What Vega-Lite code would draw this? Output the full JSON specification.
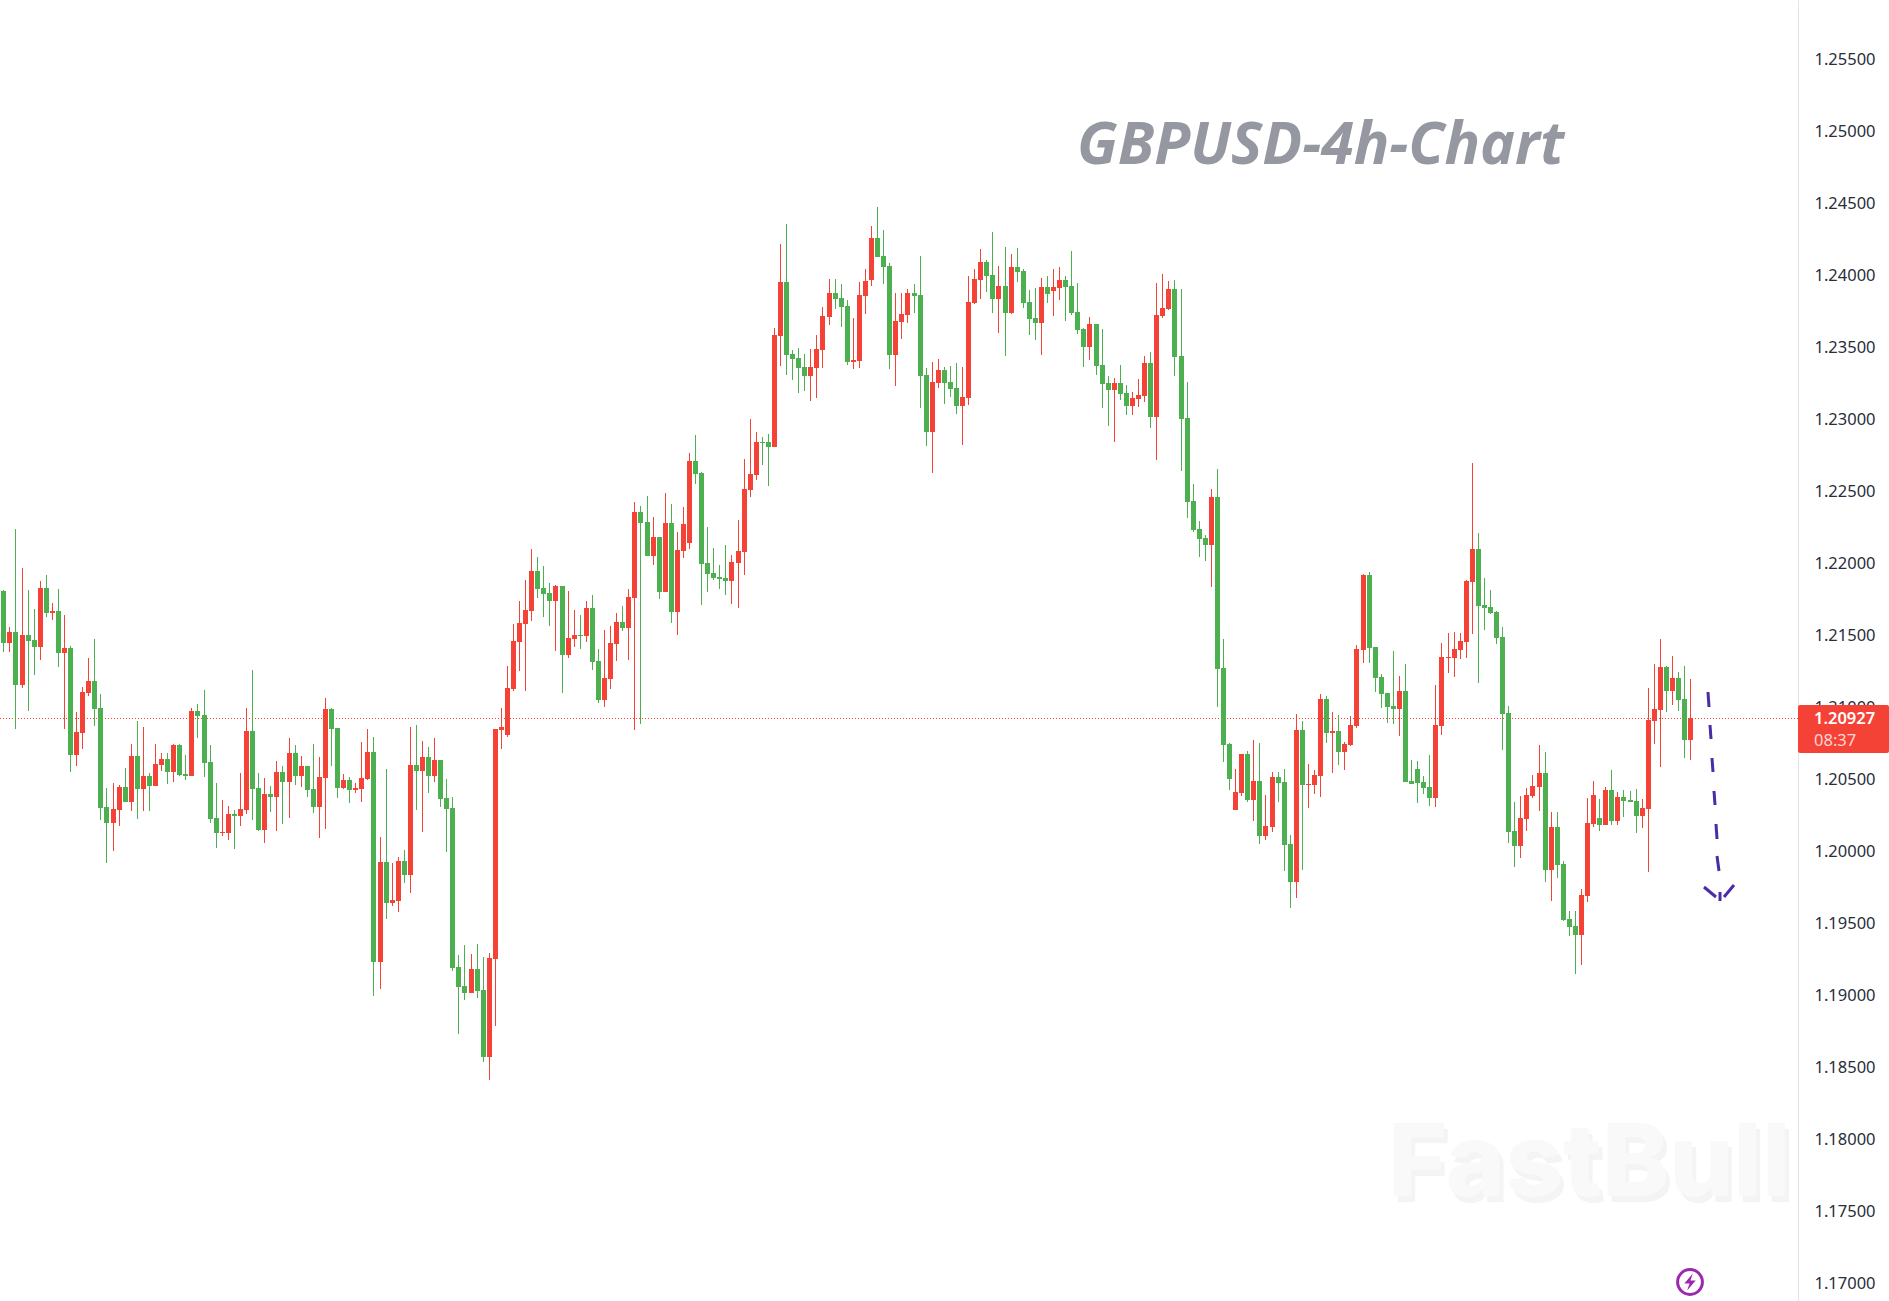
{"$schema":"https://vega.github.io/schema/vega-lite/v6.json","width":1798,"height":1301,"autosize":"none","padding":{"left":0,"top":0,"right":91,"bottom":0},"background":"white","config":{"view":{"stroke":null}},"datasets":{"candles":[
{"t":1,"o":1.21809,"h":1.21816,"l":1.21388,"c":1.2145},{"t":2,"o":1.2145,"h":1.21559,"l":1.21388,"c":1.21524},{"t":3,"o":1.21524,"h":1.2224,"l":1.20853,"c":1.21158},{"t":4,"o":1.21158,"h":1.21966,"l":1.21138,"c":1.21503},{"t":5,"o":1.21503,"h":1.21816,"l":1.20978,"c":1.21464},{"t":6,"o":1.21469,"h":1.21684,"l":1.21228,"c":1.21422},{"t":7,"o":1.21422,"h":1.21878,"l":1.21332,"c":1.2183},{"t":8,"o":1.2183,"h":1.2192,"l":1.21631,"c":1.21659},{"t":9,"o":1.21656,"h":1.21726,"l":1.2161,"c":1.2167},{"t":10,"o":1.2167,"h":1.21823,"l":1.21283,"c":1.21381},
{"t":11,"o":1.21381,"h":1.21642,"l":1.20853,"c":1.21413},{"t":12,"o":1.21413,"h":1.21427,"l":1.20554,"c":1.20672},{"t":13,"o":1.20672,"h":1.20969,"l":1.20596,"c":1.2083},{"t":14,"o":1.20825,"h":1.21142,"l":1.20714,"c":1.21108},{"t":15,"o":1.21103,"h":1.21344,"l":1.21082,"c":1.21184},{"t":16,"o":1.21184,"h":1.21476,"l":1.20874,"c":1.20992},{"t":17,"o":1.20996,"h":1.21094,"l":1.20221,"c":1.20304},{"t":18,"o":1.20309,"h":1.20441,"l":1.19922,"c":1.202},{"t":19,"o":1.202,"h":1.20476,"l":1.20006,"c":1.20295},{"t":20,"o":1.2029,"h":1.20462,"l":1.20179,"c":1.20448},
{"t":21,"o":1.20448,"h":1.2058,"l":1.20346,"c":1.20346},{"t":22,"o":1.20346,"h":1.20746,"l":1.20283,"c":1.20663},{"t":23,"o":1.20663,"h":1.20906,"l":1.20228,"c":1.20436},{"t":24,"o":1.20436,"h":1.20864,"l":1.20283,"c":1.20524},{"t":25,"o":1.20524,"h":1.20545,"l":1.20283,"c":1.20457},{"t":26,"o":1.20457,"h":1.20746,"l":1.20457,"c":1.20608},{"t":27,"o":1.20601,"h":1.20684,"l":1.20561,"c":1.20642},{"t":28,"o":1.20642,"h":1.20684,"l":1.20471,"c":1.20554},{"t":29,"o":1.20554,"h":1.20746,"l":1.20485,"c":1.20739},{"t":30,"o":1.20739,"h":1.20746,"l":1.20526,"c":1.20533},
{"t":31,"o":1.20538,"h":1.2067,"l":1.20499,"c":1.20526},{"t":32,"o":1.20526,"h":1.20996,"l":1.20526,"c":1.20976},{"t":33,"o":1.20976,"h":1.21024,"l":1.2079,"c":1.20943},{"t":34,"o":1.20948,"h":1.21121,"l":1.2052,"c":1.20617},{"t":35,"o":1.20621,"h":1.20739,"l":1.202,"c":1.20228},{"t":36,"o":1.20232,"h":1.20476,"l":1.20026,"c":1.20131},{"t":37,"o":1.20128,"h":1.2036,"l":1.2011,"c":1.20135},{"t":38,"o":1.20131,"h":1.20316,"l":1.20082,"c":1.2026},{"t":39,"o":1.2026,"h":1.20288,"l":1.2002,"c":1.20249},{"t":40,"o":1.20249,"h":1.20545,"l":1.20179,"c":1.20295},
{"t":41,"o":1.2029,"h":1.20996,"l":1.20263,"c":1.20837},{"t":42,"o":1.20837,"h":1.2126,"l":1.20221,"c":1.20436},{"t":43,"o":1.20441,"h":1.20545,"l":1.20145,"c":1.20151},{"t":44,"o":1.20151,"h":1.2051,"l":1.20061,"c":1.20399},{"t":45,"o":1.20399,"h":1.20455,"l":1.20276,"c":1.20381},{"t":46,"o":1.20381,"h":1.20628,"l":1.20145,"c":1.20552},{"t":47,"o":1.20552,"h":1.20594,"l":1.20193,"c":1.20485},{"t":48,"o":1.20485,"h":1.20788,"l":1.20235,"c":1.20684},{"t":49,"o":1.20684,"h":1.20739,"l":1.20464,"c":1.20526},{"t":50,"o":1.20525,"h":1.20664,"l":1.20451,"c":1.20594},
{"t":51,"o":1.20594,"h":1.20594,"l":1.20379,"c":1.20427},{"t":52,"o":1.20434,"h":1.20747,"l":1.2027,"c":1.20312},{"t":53,"o":1.20312,"h":1.20657,"l":1.20096,"c":1.20518},{"t":54,"o":1.20513,"h":1.21066,"l":1.20159,"c":1.2099},{"t":55,"o":1.2099,"h":1.20997,"l":1.20596,"c":1.20853},{"t":56,"o":1.20858,"h":1.20858,"l":1.20374,"c":1.20444},{"t":57,"o":1.20444,"h":1.20539,"l":1.20434,"c":1.20497},{"t":58,"o":1.20497,"h":1.20518,"l":1.20333,"c":1.2043},{"t":59,"o":1.2043,"h":1.20476,"l":1.20409,"c":1.20441},{"t":60,"o":1.20437,"h":1.20761,"l":1.20346,"c":1.20511},
{"t":61,"o":1.20504,"h":1.20851,"l":1.20497,"c":1.20691},{"t":62,"o":1.20691,"h":1.20796,"l":1.18999,"c":1.19235},{"t":63,"o":1.19235,"h":1.20101,"l":1.19048,"c":1.19927},{"t":64,"o":1.19927,"h":1.20573,"l":1.19534,"c":1.19645},{"t":65,"o":1.19645,"h":1.1992,"l":1.19624,"c":1.19663},{"t":66,"o":1.19659,"h":1.19962,"l":1.19576,"c":1.19934},{"t":67,"o":1.19934,"h":1.20011,"l":1.19784,"c":1.19839},{"t":68,"o":1.19839,"h":1.20865,"l":1.19714,"c":1.20601},{"t":69,"o":1.20601,"h":1.20879,"l":1.20291,"c":1.20562},{"t":70,"o":1.20562,"h":1.20768,"l":1.20138,"c":1.20657},
{"t":71,"o":1.20657,"h":1.20726,"l":1.20409,"c":1.20527},{"t":72,"o":1.20527,"h":1.20789,"l":1.20485,"c":1.20636},{"t":73,"o":1.20636,"h":1.20636,"l":1.20312,"c":1.20367},{"t":74,"o":1.20372,"h":1.20504,"l":1.19999,"c":1.20298},{"t":75,"o":1.20302,"h":1.20379,"l":1.19173,"c":1.19194},{"t":76,"o":1.19198,"h":1.19282,"l":1.18735,"c":1.19062},{"t":77,"o":1.19066,"h":1.19351,"l":1.18971,"c":1.1902},{"t":78,"o":1.1902,"h":1.19288,"l":1.1902,"c":1.19184},{"t":79,"o":1.19184,"h":1.19358,"l":1.18985,"c":1.19034},{"t":80,"o":1.19038,"h":1.19268,"l":1.18541,"c":1.18575},
{"t":81,"o":1.18575,"h":1.19295,"l":1.18416,"c":1.19261},{"t":82,"o":1.19256,"h":1.20851,"l":1.18791,"c":1.20851},{"t":83,"o":1.20846,"h":1.20997,"l":1.20708,"c":1.20865},{"t":84,"o":1.20812,"h":1.21289,"l":1.20798,"c":1.21136},{"t":85,"o":1.2113,"h":1.21579,"l":1.21116,"c":1.21461},{"t":86,"o":1.21457,"h":1.21739,"l":1.21255,"c":1.21586},{"t":87,"o":1.21582,"h":1.21885,"l":1.21116,"c":1.21677},{"t":88,"o":1.21672,"h":1.221,"l":1.21602,"c":1.21947},{"t":89,"o":1.21947,"h":1.22045,"l":1.21762,"c":1.21825},{"t":90,"o":1.21829,"h":1.21982,"l":1.2163,"c":1.2179},
{"t":91,"o":1.21795,"h":1.21864,"l":1.21568,"c":1.21741},{"t":92,"o":1.21741,"h":1.2185,"l":1.21394,"c":1.21843},{"t":93,"o":1.21843,"h":1.21843,"l":1.21102,"c":1.21366},{"t":94,"o":1.21366,"h":1.21809,"l":1.21346,"c":1.21482},{"t":95,"o":1.21477,"h":1.21677,"l":1.21422,"c":1.21503},{"t":96,"o":1.21503,"h":1.21642,"l":1.21408,"c":1.21496},{"t":97,"o":1.21498,"h":1.21739,"l":1.21457,"c":1.2169},{"t":98,"o":1.2169,"h":1.21781,"l":1.21262,"c":1.21318},{"t":99,"o":1.21322,"h":1.21406,"l":1.21033,"c":1.21054},{"t":100,"o":1.21054,"h":1.21538,"l":1.21005,"c":1.21204},
{"t":101,"o":1.212,"h":1.21565,"l":1.2113,"c":1.21447},{"t":102,"o":1.21443,"h":1.21656,"l":1.21325,"c":1.21593},{"t":103,"o":1.21593,"h":1.21704,"l":1.21533,"c":1.21554},{"t":104,"o":1.21554,"h":1.21822,"l":1.21332,"c":1.21767},{"t":105,"o":1.21762,"h":1.22427,"l":1.20845,"c":1.22357},{"t":106,"o":1.22357,"h":1.22399,"l":1.20887,"c":1.22283},{"t":107,"o":1.22288,"h":1.22468,"l":1.22054,"c":1.22054},{"t":108,"o":1.22054,"h":1.22322,"l":1.21991,"c":1.22184},{"t":109,"o":1.22184,"h":1.22184,"l":1.21755,"c":1.21804},{"t":110,"o":1.21804,"h":1.22489,"l":1.21804,"c":1.22281},
{"t":111,"o":1.22281,"h":1.22413,"l":1.21589,"c":1.21665},{"t":112,"o":1.21665,"h":1.22218,"l":1.21505,"c":1.22093},{"t":113,"o":1.22089,"h":1.22392,"l":1.2204,"c":1.22274},{"t":114,"o":1.22144,"h":1.22767,"l":1.22103,"c":1.22711},{"t":115,"o":1.22711,"h":1.22892,"l":1.22554,"c":1.22623},{"t":116,"o":1.22628,"h":1.22635,"l":1.21714,"c":1.21998},{"t":117,"o":1.22003,"h":1.22253,"l":1.21804,"c":1.21929},{"t":118,"o":1.21934,"h":1.22107,"l":1.21887,"c":1.21901},{"t":119,"o":1.21906,"h":1.21989,"l":1.21825,"c":1.21894},{"t":120,"o":1.21899,"h":1.22128,"l":1.21783,"c":1.2188},
{"t":121,"o":1.2188,"h":1.22059,"l":1.21721,"c":1.2201},{"t":122,"o":1.22005,"h":1.22302,"l":1.21693,"c":1.22086},{"t":123,"o":1.22082,"h":1.22725,"l":1.21922,"c":1.22517},{"t":124,"o":1.22512,"h":1.23003,"l":1.22464,"c":1.22621},{"t":125,"o":1.22616,"h":1.22913,"l":1.22582,"c":1.22843},{"t":126,"o":1.22843,"h":1.22878,"l":1.22686,"c":1.22836},{"t":127,"o":1.22843,"h":1.22899,"l":1.2254,"c":1.22811},{"t":128,"o":1.22811,"h":1.23635,"l":1.22811,"c":1.23586},{"t":129,"o":1.23582,"h":1.24218,"l":1.23373,"c":1.23955},{"t":130,"o":1.23955,"h":1.24357,"l":1.23311,"c":1.2345},
{"t":131,"o":1.23454,"h":1.23482,"l":1.23276,"c":1.23422},{"t":132,"o":1.23427,"h":1.23496,"l":1.23186,"c":1.2336},{"t":133,"o":1.23364,"h":1.23454,"l":1.232,"c":1.23304},{"t":134,"o":1.23304,"h":1.23489,"l":1.2313,"c":1.23364},{"t":135,"o":1.2336,"h":1.23586,"l":1.23151,"c":1.23489},{"t":136,"o":1.23485,"h":1.23781,"l":1.2336,"c":1.23718},{"t":137,"o":1.23714,"h":1.23975,"l":1.23658,"c":1.23878},{"t":138,"o":1.23878,"h":1.23975,"l":1.23769,"c":1.23839},{"t":139,"o":1.23843,"h":1.23941,"l":1.23644,"c":1.23783},{"t":140,"o":1.23788,"h":1.23829,"l":1.2338,"c":1.23401},
{"t":141,"o":1.23401,"h":1.23704,"l":1.23353,"c":1.23413},{"t":142,"o":1.23408,"h":1.23955,"l":1.2336,"c":1.23864},{"t":143,"o":1.2386,"h":1.24045,"l":1.23735,"c":1.23961},{"t":144,"o":1.23968,"h":1.24343,"l":1.23929,"c":1.2426},{"t":145,"o":1.2426,"h":1.24475,"l":1.2413,"c":1.2413},{"t":146,"o":1.24135,"h":1.24316,"l":1.23943,"c":1.24061},{"t":147,"o":1.24066,"h":1.24086,"l":1.23353,"c":1.2345},{"t":148,"o":1.2345,"h":1.23878,"l":1.23235,"c":1.23684},{"t":149,"o":1.23679,"h":1.23878,"l":1.23561,"c":1.23732},{"t":150,"o":1.23728,"h":1.23906,"l":1.23672,"c":1.23878},
{"t":151,"o":1.23878,"h":1.23941,"l":1.23742,"c":1.2386},{"t":152,"o":1.23864,"h":1.24135,"l":1.23082,"c":1.23304},{"t":153,"o":1.23309,"h":1.23357,"l":1.22818,"c":1.22915},{"t":154,"o":1.22915,"h":1.23399,"l":1.2263,"c":1.2326},{"t":155,"o":1.23255,"h":1.2342,"l":1.23221,"c":1.23343},{"t":156,"o":1.23343,"h":1.23364,"l":1.2311,"c":1.23255},{"t":157,"o":1.2326,"h":1.23371,"l":1.23158,"c":1.23214},{"t":158,"o":1.23218,"h":1.23392,"l":1.2304,"c":1.23096},{"t":159,"o":1.23096,"h":1.23364,"l":1.22825,"c":1.23156},{"t":160,"o":1.23151,"h":1.23996,"l":1.23103,"c":1.23816},
{"t":161,"o":1.23811,"h":1.24045,"l":1.23804,"c":1.23975},{"t":162,"o":1.23971,"h":1.24184,"l":1.23839,"c":1.24093},{"t":163,"o":1.24093,"h":1.24107,"l":1.23887,"c":1.23998},{"t":164,"o":1.24003,"h":1.24302,"l":1.23742,"c":1.23839},{"t":165,"o":1.23839,"h":1.24066,"l":1.23603,"c":1.23927},{"t":166,"o":1.23927,"h":1.24198,"l":1.23443,"c":1.23742},{"t":167,"o":1.23742,"h":1.24149,"l":1.23735,"c":1.24059},{"t":168,"o":1.24059,"h":1.24191,"l":1.23957,"c":1.24026},{"t":169,"o":1.24031,"h":1.24045,"l":1.23776,"c":1.23811},{"t":170,"o":1.23816,"h":1.23899,"l":1.23589,"c":1.237},
{"t":171,"o":1.23704,"h":1.23913,"l":1.23554,"c":1.23672},{"t":172,"o":1.23672,"h":1.23982,"l":1.2345,"c":1.2392},{"t":173,"o":1.2392,"h":1.23996,"l":1.23811,"c":1.23873},{"t":174,"o":1.23894,"h":1.24045,"l":1.23721,"c":1.2392},{"t":175,"o":1.23915,"h":1.24059,"l":1.23832,"c":1.23968},{"t":176,"o":1.23968,"h":1.23996,"l":1.23686,"c":1.23922},{"t":177,"o":1.23927,"h":1.2417,"l":1.23728,"c":1.23741},{"t":178,"o":1.23746,"h":1.23947,"l":1.23596,"c":1.23623},{"t":179,"o":1.23628,"h":1.23635,"l":1.23366,"c":1.23505},{"t":180,"o":1.23505,"h":1.23711,"l":1.23415,"c":1.23663},
{"t":181,"o":1.23663,"h":1.23663,"l":1.23311,"c":1.23373},{"t":182,"o":1.23378,"h":1.23628,"l":1.23082,"c":1.23248},{"t":183,"o":1.23253,"h":1.23302,"l":1.22957,"c":1.23207},{"t":184,"o":1.23207,"h":1.23288,"l":1.22846,"c":1.23253},{"t":185,"o":1.23253,"h":1.23378,"l":1.23137,"c":1.23179},{"t":186,"o":1.23184,"h":1.23239,"l":1.23033,"c":1.23096},{"t":187,"o":1.23096,"h":1.2319,"l":1.23033,"c":1.23149},{"t":188,"o":1.23144,"h":1.23281,"l":1.23089,"c":1.2317},{"t":189,"o":1.23165,"h":1.2344,"l":1.23123,"c":1.23392},{"t":190,"o":1.23392,"h":1.23468,"l":1.22943,"c":1.23019},
{"t":191,"o":1.23019,"h":1.23947,"l":1.22721,"c":1.23725},{"t":192,"o":1.23721,"h":1.2401,"l":1.23707,"c":1.23774},{"t":193,"o":1.23769,"h":1.23961,"l":1.23762,"c":1.23906},{"t":194,"o":1.23906,"h":1.23968,"l":1.23304,"c":1.23436},{"t":195,"o":1.2344,"h":1.23906,"l":1.22644,"c":1.23005},{"t":196,"o":1.2301,"h":1.2326,"l":1.22318,"c":1.22429},{"t":197,"o":1.22434,"h":1.22552,"l":1.22221,"c":1.22235},{"t":198,"o":1.22239,"h":1.22295,"l":1.22047,"c":1.22172},{"t":199,"o":1.22177,"h":1.22198,"l":1.22019,"c":1.22131},{"t":200,"o":1.22131,"h":1.22517,"l":1.21839,"c":1.22462},
{"t":201,"o":1.22462,"h":1.22656,"l":1.21005,"c":1.21269},{"t":202,"o":1.21274,"h":1.21475,"l":1.20623,"c":1.20742},{"t":203,"o":1.20746,"h":1.20753,"l":1.20429,"c":1.20505},{"t":204,"o":1.2029,"h":1.20573,"l":1.2029,"c":1.20413},{"t":205,"o":1.20408,"h":1.20677,"l":1.20387,"c":1.20677},{"t":206,"o":1.20677,"h":1.20698,"l":1.20346,"c":1.2036},{"t":207,"o":1.2036,"h":1.20774,"l":1.20214,"c":1.20489},{"t":208,"o":1.20489,"h":1.20753,"l":1.20054,"c":1.2011},{"t":209,"o":1.2011,"h":1.20392,"l":1.20082,"c":1.20177},{"t":210,"o":1.20172,"h":1.20552,"l":1.20137,"c":1.20517},
{"t":211,"o":1.20517,"h":1.20552,"l":1.20346,"c":1.20478},{"t":212,"o":1.20482,"h":1.20573,"l":1.19866,"c":1.20047},{"t":213,"o":1.20052,"h":1.20114,"l":1.1961,"c":1.1979},{"t":214,"o":1.1979,"h":1.20955,"l":1.19679,"c":1.20843},{"t":215,"o":1.20843,"h":1.20906,"l":1.19873,"c":1.20464},{"t":216,"o":1.20461,"h":1.20607,"l":1.20304,"c":1.20468},{"t":217,"o":1.20464,"h":1.20566,"l":1.20401,"c":1.20531},{"t":218,"o":1.20526,"h":1.21093,"l":1.2038,"c":1.21059},{"t":219,"o":1.21059,"h":1.2108,"l":1.20755,"c":1.20825},{"t":220,"o":1.20825,"h":1.20968,"l":1.20547,"c":1.20836},
{"t":221,"o":1.20836,"h":1.20948,"l":1.20603,"c":1.20693},{"t":222,"o":1.20693,"h":1.2076,"l":1.20568,"c":1.20746},{"t":223,"o":1.20742,"h":1.20941,"l":1.20735,"c":1.20878},{"t":224,"o":1.20873,"h":1.21434,"l":1.2086,"c":1.21406},{"t":225,"o":1.21401,"h":1.21927,"l":1.21311,"c":1.2192},{"t":226,"o":1.2192,"h":1.21941,"l":1.21311,"c":1.21415},{"t":227,"o":1.2142,"h":1.2142,"l":1.2111,"c":1.21207},{"t":228,"o":1.21211,"h":1.21232,"l":1.20999,"c":1.21096},{"t":229,"o":1.211,"h":1.211,"l":1.20894,"c":1.21005},{"t":230,"o":1.2101,"h":1.21392,"l":1.20887,"c":1.20992},
{"t":231,"o":1.20992,"h":1.21218,"l":1.20804,"c":1.21114},{"t":232,"o":1.21114,"h":1.21302,"l":1.20485,"c":1.20485},{"t":233,"o":1.20489,"h":1.20635,"l":1.20471,"c":1.20471},{"t":234,"o":1.20573,"h":1.20628,"l":1.20339,"c":1.20478},{"t":235,"o":1.20482,"h":1.20524,"l":1.20401,"c":1.20443},{"t":236,"o":1.20448,"h":1.2067,"l":1.20318,"c":1.20373},{"t":237,"o":1.20373,"h":1.21156,"l":1.20311,"c":1.20878},{"t":238,"o":1.20873,"h":1.21448,"l":1.20811,"c":1.2135},{"t":239,"o":1.21346,"h":1.21517,"l":1.21242,"c":1.2135},{"t":240,"o":1.21343,"h":1.21525,"l":1.21214,"c":1.21405},
{"t":241,"o":1.21401,"h":1.21518,"l":1.21336,"c":1.2146},{"t":242,"o":1.21456,"h":1.21884,"l":1.21343,"c":1.21879},{"t":243,"o":1.21874,"h":1.22697,"l":1.21513,"c":1.22101},{"t":244,"o":1.22101,"h":1.22212,"l":1.21171,"c":1.21707},{"t":245,"o":1.21712,"h":1.21898,"l":1.21537,"c":1.21692},{"t":246,"o":1.21697,"h":1.21814,"l":1.21649,"c":1.21657},{"t":247,"o":1.21664,"h":1.21671,"l":1.21444,"c":1.21484},{"t":248,"o":1.21489,"h":1.21559,"l":1.20705,"c":1.20956},{"t":249,"o":1.20961,"h":1.21011,"l":1.20061,"c":1.20138},{"t":250,"o":1.20142,"h":1.20343,"l":1.19894,"c":1.2004},
{"t":251,"o":1.2004,"h":1.20384,"l":1.19953,"c":1.20231},{"t":252,"o":1.20226,"h":1.20441,"l":1.20145,"c":1.20391},{"t":253,"o":1.20386,"h":1.2053,"l":1.20372,"c":1.20453},{"t":254,"o":1.20449,"h":1.20738,"l":1.20284,"c":1.20544},{"t":255,"o":1.20544,"h":1.20688,"l":1.19788,"c":1.19872},{"t":256,"o":1.19872,"h":1.20274,"l":1.19654,"c":1.20169},{"t":257,"o":1.20169,"h":1.20274,"l":1.19815,"c":1.19908},{"t":258,"o":1.19913,"h":1.19934,"l":1.19518,"c":1.19525},{"t":259,"o":1.1953,"h":1.19585,"l":1.19413,"c":1.19477},{"t":260,"o":1.19482,"h":1.19585,"l":1.1915,"c":1.19422},
{"t":261,"o":1.19422,"h":1.19738,"l":1.19212,"c":1.19698},{"t":262,"o":1.19693,"h":1.20372,"l":1.19652,"c":1.20197},{"t":263,"o":1.20193,"h":1.20489,"l":1.20169,"c":1.20391},{"t":264,"o":1.20231,"h":1.20365,"l":1.20145,"c":1.20186},{"t":265,"o":1.20186,"h":1.20446,"l":1.20186,"c":1.20427},{"t":266,"o":1.20427,"h":1.20566,"l":1.20186,"c":1.20214},{"t":267,"o":1.20214,"h":1.20413,"l":1.20186,"c":1.20377},{"t":268,"o":1.20377,"h":1.20427,"l":1.2024,"c":1.20353},{"t":269,"o":1.20358,"h":1.2042,"l":1.20346,"c":1.20346},{"t":270,"o":1.20351,"h":1.20434,"l":1.2013,"c":1.20248},
{"t":271,"o":1.20248,"h":1.20365,"l":1.20164,"c":1.203},{"t":272,"o":1.20298,"h":1.21135,"l":1.1986,"c":1.20913},{"t":273,"o":1.20908,"h":1.21303,"l":1.20748,"c":1.20989},{"t":274,"o":1.20984,"h":1.21475,"l":1.20583,"c":1.21281},{"t":275,"o":1.21281,"h":1.21286,"l":1.2097,"c":1.21116},{"t":276,"o":1.21116,"h":1.21358,"l":1.2102,"c":1.21204},{"t":277,"o":1.21204,"h":1.21245,"l":1.20977,"c":1.21054},{"t":278,"o":1.21059,"h":1.21286,"l":1.20652,"c":1.20776},{"t":279,"o":1.20776,"h":1.21197,"l":1.20638,"c":1.20927}
],"dashes":[
{"a":281.88,"b":282.10,"p":1.2111,"q":1.21006},{"a":282.26,"b":282.43,"p":1.20878,"q":1.20779},{"a":282.59,"b":282.81,"p":1.20652,"q":1.2055},{"a":282.92,"b":283.09,"p":1.20422,"q":1.20321},{"a":283.2,"b":283.36,"p":1.20191,"q":1.20089},{"a":283.47,"b":283.69,"p":1.19969,"q":1.19865},{"a":283.91,"b":283.96,"p":1.19721,"q":1.19659},{"a":281.27,"b":283.25,"p":1.19756,"q":1.19686},{"a":286.27,"b":284.62,"p":1.19767,"q":1.19686}
]},
"layer":[
{"data":{"values":[{"label":"FastBull","i":229.2,"p":1.17608}]},"mark":{"type":"text","align":"left","baseline":"alphabetic","font":"Inter","fontWeight":800,"fontSize":101,"dx":4,"dy":6,"color":"#f4f4f4"},"encoding":{"x":{"field":"i","type":"quantitative","axis":null,"scale":{"domain":[0.456,296.76],"range":[0,1798],"nice":false,"zero":false,"round":true,"padding":0}},"y":{"field":"p","type":"quantitative","scale":{"domain":[1.16878,1.25913],"range":[1301,0],"nice":false,"zero":false,"round":true},"axis":{"orient":"right","values":[1.17,1.175,1.18,1.185,1.19,1.195,1.2,1.205,1.21,1.215,1.22,1.225,1.23,1.235,1.24,1.245,1.25,1.255],"format":".5f","title":null,"grid":false,"ticks":false,"domain":true,"domainColor":"#e0e3eb","domainWidth":1,"labelPadding":16,"labelFont":"Noto Sans","labelFontSize":16.5,"labelColor":"#2a2e39"}},"text":{"field":"label"}}},
{"data":{"values":[{"label":"FastBull","i":229.2,"p":1.17608}]},"mark":{"type":"text","align":"left","baseline":"alphabetic","font":"Inter","fontWeight":800,"fontSize":101,"color":"#f9f9f9"},"encoding":{"x":{"field":"i","type":"quantitative","scale":{"domain":[0.456,296.76],"range":[0,1798],"nice":false,"zero":false,"round":true,"padding":0}},"y":{"field":"p","type":"quantitative","scale":{"domain":[1.16878,1.25913],"range":[1301,0],"nice":false,"zero":false,"round":true}},"text":{"field":"label"}}},
{"data":{"values":[{"p":1.20927}]},"mark":{"type":"rule","color":"#F44336","strokeWidth":1,"strokeDash":[1,2],"yOffset":0.5},"encoding":{"y":{"field":"p","type":"quantitative","scale":{"domain":[1.16878,1.25913],"range":[1301,0],"nice":false,"zero":false,"round":true}}}},
{"data":{"name":"candles"},"mark":{"type":"rule","strokeWidth":1,"xOffset":0.5},"encoding":{"x":{"field":"t","type":"quantitative","scale":{"domain":[0.456,296.76],"range":[0,1798],"nice":false,"zero":false,"round":true,"padding":0}},"y":{"field":"l","type":"quantitative","scale":{"domain":[1.16878,1.25913],"range":[1301,0],"nice":false,"zero":false,"round":true}},"y2":{"field":"h"},"color":{"condition":{"test":"datum.c>=datum.o","value":"#F44336"},"value":"#4CAF50"}}},
{"data":{"name":"candles"},"mark":{"type":"bar","size":5,"xOffset":0.5},"encoding":{"x":{"field":"t","type":"quantitative","scale":{"domain":[0.456,296.76],"range":[0,1798],"nice":false,"zero":false,"round":true,"padding":0}},"y":{"field":"o","type":"quantitative","scale":{"domain":[1.16878,1.25913],"range":[1301,0],"nice":false,"zero":false,"round":true}},"y2":{"field":"c"},"color":{"condition":{"test":"datum.c>=datum.o","value":"#F44336"},"value":"#4CAF50"}}},
{"data":{"name":"dashes"},"mark":{"type":"rule","color":"#4A2BA8","strokeWidth":3},"encoding":{"x":{"field":"a","type":"quantitative","scale":{"domain":[0.456,296.76],"range":[0,1798],"nice":false,"zero":false,"round":true,"padding":0}},"x2":{"field":"b"},"y":{"field":"p","type":"quantitative","scale":{"domain":[1.16878,1.25913],"range":[1301,0],"nice":false,"zero":false,"round":true}},"y2":{"field":"q"}}},
{"data":{"values":[{"a":296.76,"b":311.68,"p":1.21017,"q":1.20686}]},"mark":{"type":"rect","color":"#F44336","cornerRadius":2},"encoding":{"x":{"field":"a","type":"quantitative","scale":{"domain":[0.456,296.76],"range":[0,1798],"nice":false,"zero":false,"round":true,"padding":0}},"x2":{"field":"b"},"y":{"field":"p","type":"quantitative","scale":{"domain":[1.16878,1.25913],"range":[1301,0],"nice":false,"zero":false,"round":true}},"y2":{"field":"q"}}},
{"data":{"values":[{"label":"1.20927","i":299.4,"p":1.20927}]},"mark":{"type":"text","align":"left","baseline":"middle","font":"Noto Sans","fontSize":16.5,"fontWeight":600,"dy":1,"color":"#ffffff"},"encoding":{"x":{"field":"i","type":"quantitative","scale":{"domain":[0.456,296.76],"range":[0,1798],"nice":false,"zero":false,"round":true,"padding":0}},"y":{"field":"p","type":"quantitative","scale":{"domain":[1.16878,1.25913],"range":[1301,0],"nice":false,"zero":false,"round":true}},"text":{"field":"label"}}},
{"data":{"values":[{"label":"08:37","i":299.4,"p":1.20765}]},"mark":{"type":"text","align":"left","baseline":"middle","font":"Noto Sans","fontSize":16.5,"color":"#fcd5d2"},"encoding":{"x":{"field":"i","type":"quantitative","scale":{"domain":[0.456,296.76],"range":[0,1798],"nice":false,"zero":false,"round":true,"padding":0}},"y":{"field":"p","type":"quantitative","scale":{"domain":[1.16878,1.25913],"range":[1301,0],"nice":false,"zero":false,"round":true}},"text":{"field":"label"}}},
{"data":{"values":[{"label":"GBPUSD-4h-Chart","i":177.9,"p":1.24777}]},"mark":{"type":"text","align":"left","baseline":"alphabetic","font":"Open Sans","fontWeight":"bold","fontStyle":"italic","fontSize":59,"color":"#9598A1"},"encoding":{"x":{"field":"i","type":"quantitative","scale":{"domain":[0.456,296.76],"range":[0,1798],"nice":false,"zero":false,"round":true,"padding":0}},"y":{"field":"p","type":"quantitative","scale":{"domain":[1.16878,1.25913],"range":[1301,0],"nice":false,"zero":false,"round":true}},"text":{"field":"label"}}},
{"data":{"values":[{"i":278.96,"p":1.1701}]},"mark":{"type":"point","shape":"circle","filled":false,"size":616,"strokeWidth":3,"color":"#9C27B0","opacity":1},"encoding":{"x":{"field":"i","type":"quantitative","scale":{"domain":[0.456,296.76],"range":[0,1798],"nice":false,"zero":false,"round":true,"padding":0}},"y":{"field":"p","type":"quantitative","scale":{"domain":[1.16878,1.25913],"range":[1301,0],"nice":false,"zero":false,"round":true}}}},
{"data":{"values":[{"i":278.96,"p":1.1701}]},"mark":{"type":"point","shape":"M0.3,-0.9 L-0.6,0.15 L-0.05,0.15 L-0.3,0.9 L0.6,-0.15 L0.05,-0.15 Z","filled":true,"size":360,"color":"#9C27B0","opacity":1},"encoding":{"x":{"field":"i","type":"quantitative","scale":{"domain":[0.456,296.76],"range":[0,1798],"nice":false,"zero":false,"round":true,"padding":0}},"y":{"field":"p","type":"quantitative","scale":{"domain":[1.16878,1.25913],"range":[1301,0],"nice":false,"zero":false,"round":true}}}}
]}
